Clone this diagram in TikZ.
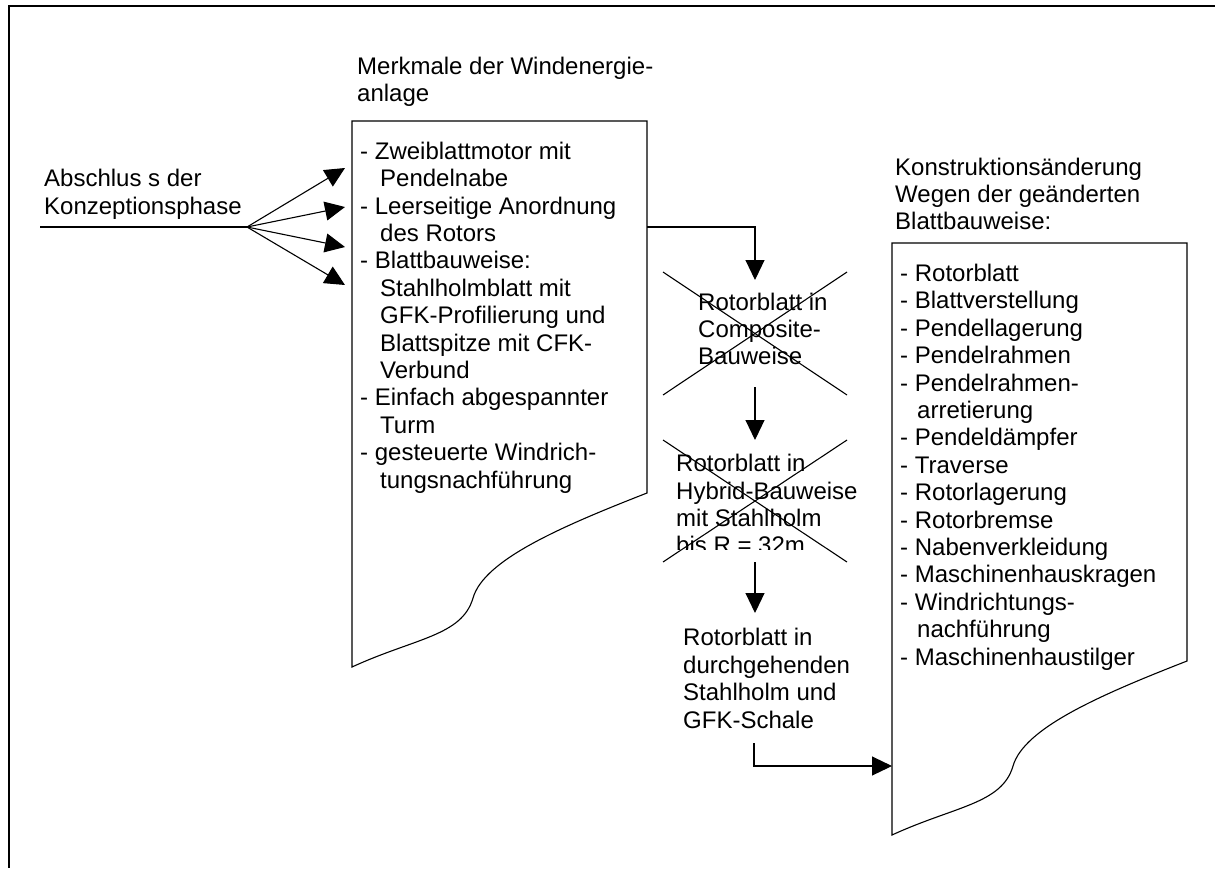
\documentclass[tikz,border=0pt]{standalone}
\usepackage{fontspec}
\setmainfont{Liberation Sans}
\usetikzlibrary{arrows.meta}
\begin{document}
\begin{tikzpicture}[x=1pt,y=-1pt,
  txt/.style={font=\fontsize{24}{27.4}\selectfont, inner sep=0pt, align=left, anchor=base west},
  ln/.style={line width=1.1pt},
  arr/.style={ln, -{Triangle[length=20pt,width=19pt]}},
  frame/.style={line width=1.3pt}]
\useasboundingbox (0,0) rectangle (1215,868);
% outer frame (top and left)
\draw[frame] (1215,6) -- (9,6) -- (9,868);

% left text and fan of arrows (text anchors at last baseline)
\node[txt] (ltext) at (44,214) {Abschlus s der\\Konzeptionsphase};
\coordinate (cstart) at (40,227);
\coordinate (cfan) at (247,227);
\coordinate (t1) at (345,168);
\coordinate (t2) at (345,207);
\coordinate (t3) at (345,247);
\coordinate (t4) at (345,285);
\draw[ln] (cstart) -- (cfan);
\foreach \t in {t1,t2,t3,t4} \draw[arr] (cfan) -- (\t);

% document box 1
\node[txt] (title1) at (357,101.7) {Merkmale der Windenergie-\\anlage};
\draw[ln] (352,667) -- (352,121) -- (647,121) -- (647,493)
  .. controls (560,527) and (484,560) .. (473,598)
  .. controls (462,636) and (415,638) .. (352,667) -- cycle;
\node[txt] (list1) at (360,488.1) {- Zweiblattmotor mit\\\hspace*{20pt}Pendelnabe\\- Leerseitige Anordnung\\\hspace*{20pt}des Rotors\\- Blattbauweise:\\\hspace*{20pt}Stahlholmblatt mit\\\hspace*{20pt}GFK-Profilierung und\\\hspace*{20pt}Blattspitze mit CFK-\\\hspace*{20pt}Verbund\\- Einfach abgespannter\\\hspace*{20pt}Turm\\- gesteuerte Windrich-\\\hspace*{20pt}tungsnachführung};

% connector box1 -> composite
\coordinate (b1out) at (647,227);
\coordinate (bend1) at (755,227);
\coordinate (a1tip) at (755,280);
\draw[arr] (b1out) -- (bend1) -- (a1tip);

% crossed option 1
\node[txt] (comp) at (698,364.8) {Rotorblatt in\\Composite-\\Bauweise};
\draw[ln] (663,272) -- (847,395);
\draw[ln] (847,272) -- (663,395);
\coordinate (a2s) at (755,387);
\coordinate (a2e) at (755,440);
\draw[arr] (a2s) -- (a2e);

% crossed option 2 (last line cut off)
\begin{scope}
\clip (600,420) rectangle (900,549);
\node[txt] (hyb) at (676,553.9) {Rotorblatt in\\Hybrid-Bauweise\\mit Stahlholm\\bis R = 32m};
\end{scope}
\draw[ln] (663,440) -- (847,562);
\draw[ln] (847,440) -- (663,562);
\coordinate (a3s) at (755,562);
\coordinate (a3e) at (755,613);
\draw[arr] (a3s) -- (a3e);

% final option
\node[txt] (final) at (683,728) {Rotorblatt in\\durchgehenden\\Stahlholm und\\GFK-Schale};
\coordinate (fout) at (754,743);
\coordinate (bend2) at (754,766);
\coordinate (b2in) at (892,766);
\draw[arr] (fout) -- (bend2) -- (b2in);

% document box 2
\node[txt] (title2) at (895,229.8) {Konstruktionsänderung\\Wegen der geänderten\\Blattbauweise:};
\draw[ln] (892,835) -- (892,243) -- (1187,243) -- (1187,661)
  .. controls (1100,695) and (1024,728) .. (1013,766)
  .. controls (1002,804) and (955,806) .. (892,835) -- cycle;
\node[txt] (list2) at (900,665) {- Rotorblatt\\- Blattverstellung\\- Pendellagerung\\- Pendelrahmen\\- Pendelrahmen-\\\hspace*{17pt}arretierung\\- Pendeldämpfer\\- Traverse\\- Rotorlagerung\\- Rotorbremse\\- Nabenverkleidung\\- Maschinenhauskragen\\- Windrichtungs-\\\hspace*{17pt}nachführung\\- Maschinenhaustilger};
\end{tikzpicture}
\end{document}
